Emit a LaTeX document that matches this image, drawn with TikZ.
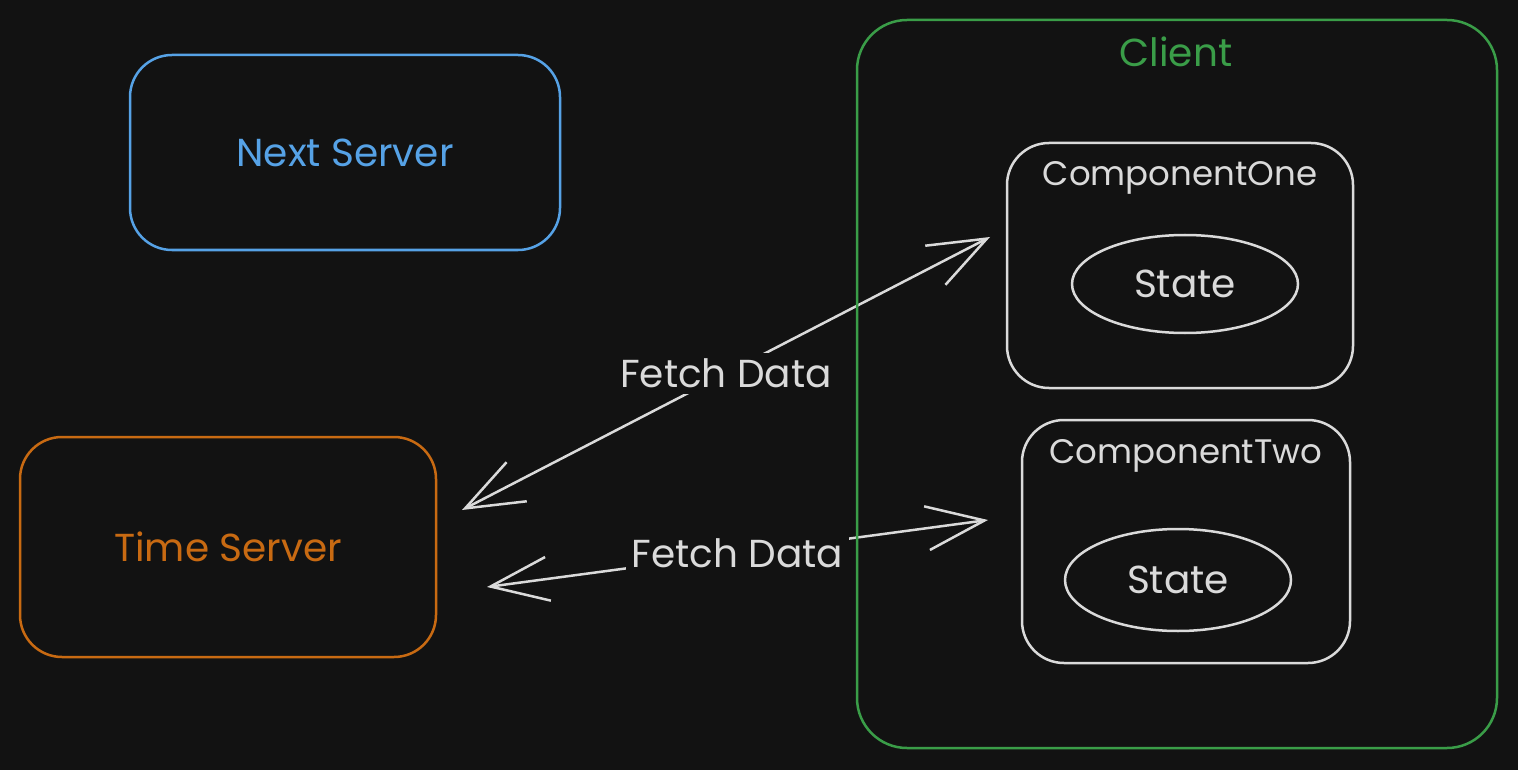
\documentclass[tikz,border=0pt]{standalone}
\usepackage{fontspec}
\setmainfont{Poppins}
\usepackage{xcolor}
\usetikzlibrary{arrows.meta,shapes.geometric}

\definecolor{bgdark}{HTML}{121212}
\definecolor{nextblue}{HTML}{56A2E6}
\definecolor{timeorange}{HTML}{C86A12}
\definecolor{clientgreen}{HTML}{3A9D48}
\definecolor{chalk}{HTML}{DADADA}

\begin{document}
\begin{tikzpicture}[x=1pt, y=-1pt,
        box/.style={draw, rectangle, rounded corners=42pt, line width=2.5pt},
        statebubble/.style={draw=chalk, ellipse, line width=2.5pt, text=chalk},
        complbl/.style={text=chalk, font=\fontsize{34}{40}\selectfont},
        conn/.style={draw=chalk, line width=2.5pt, line cap=round,
            {Straight Barb[length=58pt, width=44pt, line width=2.5pt]}-{Straight Barb[length=58pt, width=44pt, line width=2.5pt]}},
        lbl/.style={fill=bgdark, text=chalk, inner sep=6pt}]
    \fontsize{39}{46}\selectfont
    \fill[bgdark] (0,0) rectangle (1518,770);

    % free ends of the fetch arrows
    \coordinate (t1) at (462,510);
    \coordinate (c1) at (990,237);
    \coordinate (t2) at (487,587);
    \coordinate (c2) at (988,520);

    \draw[conn] (t1) -- node[lbl] (fetch1) {Fetch Data} (c1);
    \draw[conn] (t2) -- node[lbl] (fetch2) {Fetch Data} (c2);

    \node[box, draw=nextblue, minimum width=430pt, minimum height=195pt, text=nextblue] (next) at (345,152.5) {Next Server};
    \node[box, draw=timeorange, minimum width=416pt, minimum height=220pt, text=timeorange] (time) at (228,547) {Time Server};

    \node[box, draw=clientgreen, rounded corners=50pt, minimum width=640pt, minimum height=728pt] (client) at (1177,384) {};
    \node[text=clientgreen] (clientlbl) at (1176,52) {Client};

    \node[box, draw=chalk, minimum width=346pt, minimum height=245pt] (comp1) at (1180,265.5) {};
    \node[complbl] (comp1lbl) at (1180,178) {ComponentOne};
    \node[statebubble, minimum width=226pt, minimum height=98pt] (state1) at (1185,284) {State};

    \node[box, draw=chalk, minimum width=328pt, minimum height=243pt] (comp2) at (1186,541.5) {};
    \node[complbl] (comp2lbl) at (1186,456) {ComponentTwo};
    \node[statebubble, minimum width=226pt, minimum height=102pt] (state2) at (1178,580) {State};
\end{tikzpicture}
\end{document}
